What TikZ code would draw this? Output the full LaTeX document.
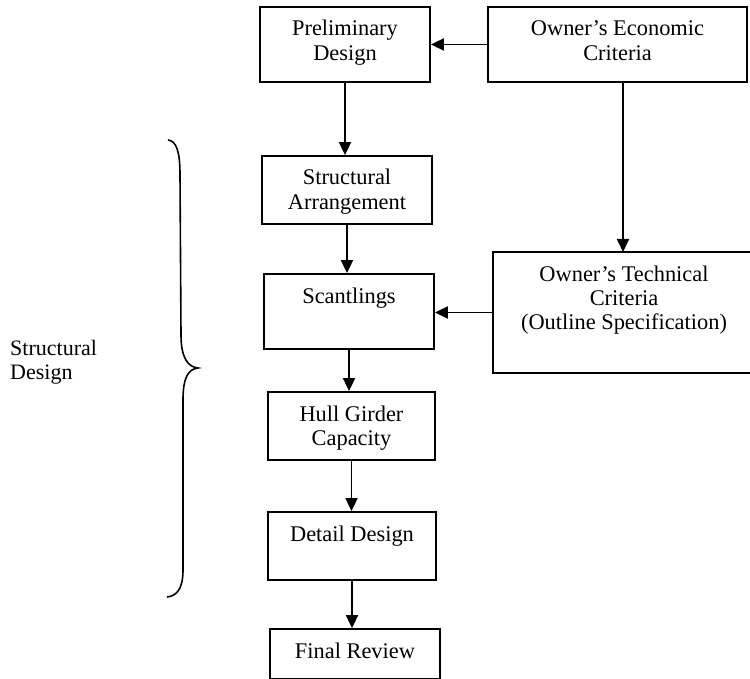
\documentclass[tikz,border=0pt]{standalone}
\usepackage{fontspec}
\setmainfont{Liberation Serif}
\usetikzlibrary{arrows.meta}
\newcommand{\bxtext}[3]{\parbox[c][#2pt][t]{#1pt}{\centering\rule{0pt}{29pt}#3}}
\begin{document}
\begin{tikzpicture}[x=1pt,y=-1pt,
  box/.style={draw, line width=1.8pt, inner sep=0pt, font={\fontsize{22.4}{24.5}\selectfont}},
  arr/.style={line width=1.8pt, -{Triangle[length=13pt,width=12pt]}},
  bracestyle/.style={line width=1.6pt},
  lbl/.style={inner sep=0pt, anchor=north west, font={\fontsize{22}{24}\selectfont}}]
\useasboundingbox (0,0) rectangle (750,679);
\node[box] (prelim) at (345,44.5)  {\bxtext{170}{75}{Preliminary\\Design}};
\node[box] (econ)   at (617.5,44.5){\bxtext{259}{75}{Owner’s Economic\\Criteria}};
\node[box] (sa)     at (347,190)   {\bxtext{170}{68}{Structural\\Arrangement}};
\node[box] (scant)  at (349,311.5) {\bxtext{170}{75}{Scantlings}};
\node[box] (tech)   at (624,312.5) {\bxtext{262}{121}{Owner’s Technical\\Criteria\\(Outline Specification)}};
\node[box] (hull)   at (351.5,426) {\bxtext{167}{68}{Hull Girder\\Capacity}};
\node[box] (detail) at (352,546)   {\bxtext{168}{68}{Detail Design}};
\node[box] (final)  at (355,654)   {\bxtext{170}{50}{Final Review}};
\node[lbl] (sdlabel) at (10,326) {\parbox[t]{120pt}{\raggedright\rule{0pt}{29pt}Structural\\Design}};
\draw[arr] (econ.west) -- (prelim.east);
\draw[arr] (623,82) -- (623,252);
\draw[arr] (tech.west) -- (tech.west -| scant.east);
\draw[arr] (prelim.south) -- (prelim.south |- sa.north);
\draw[arr] (sa.south) -- (sa.south |- scant.north);
\draw[arr] (scant.south) -- (scant.south |- hull.north);
\draw[arr] (hull.south) -- (hull.south |- detail.north);
\draw[arr] (detail.south) -- (detail.south |- final.north);
\draw[bracestyle] (168,140) .. controls (176,141) and (180,150) .. (180,175)
  -- (181,335) .. controls (181,358) and (188,367) .. (198,368)
  .. controls (188,369) and (183,378) .. (183,400)
  -- (183,570) .. controls (183,590) and (176,596) .. (167,597);
\end{tikzpicture}
\end{document}
